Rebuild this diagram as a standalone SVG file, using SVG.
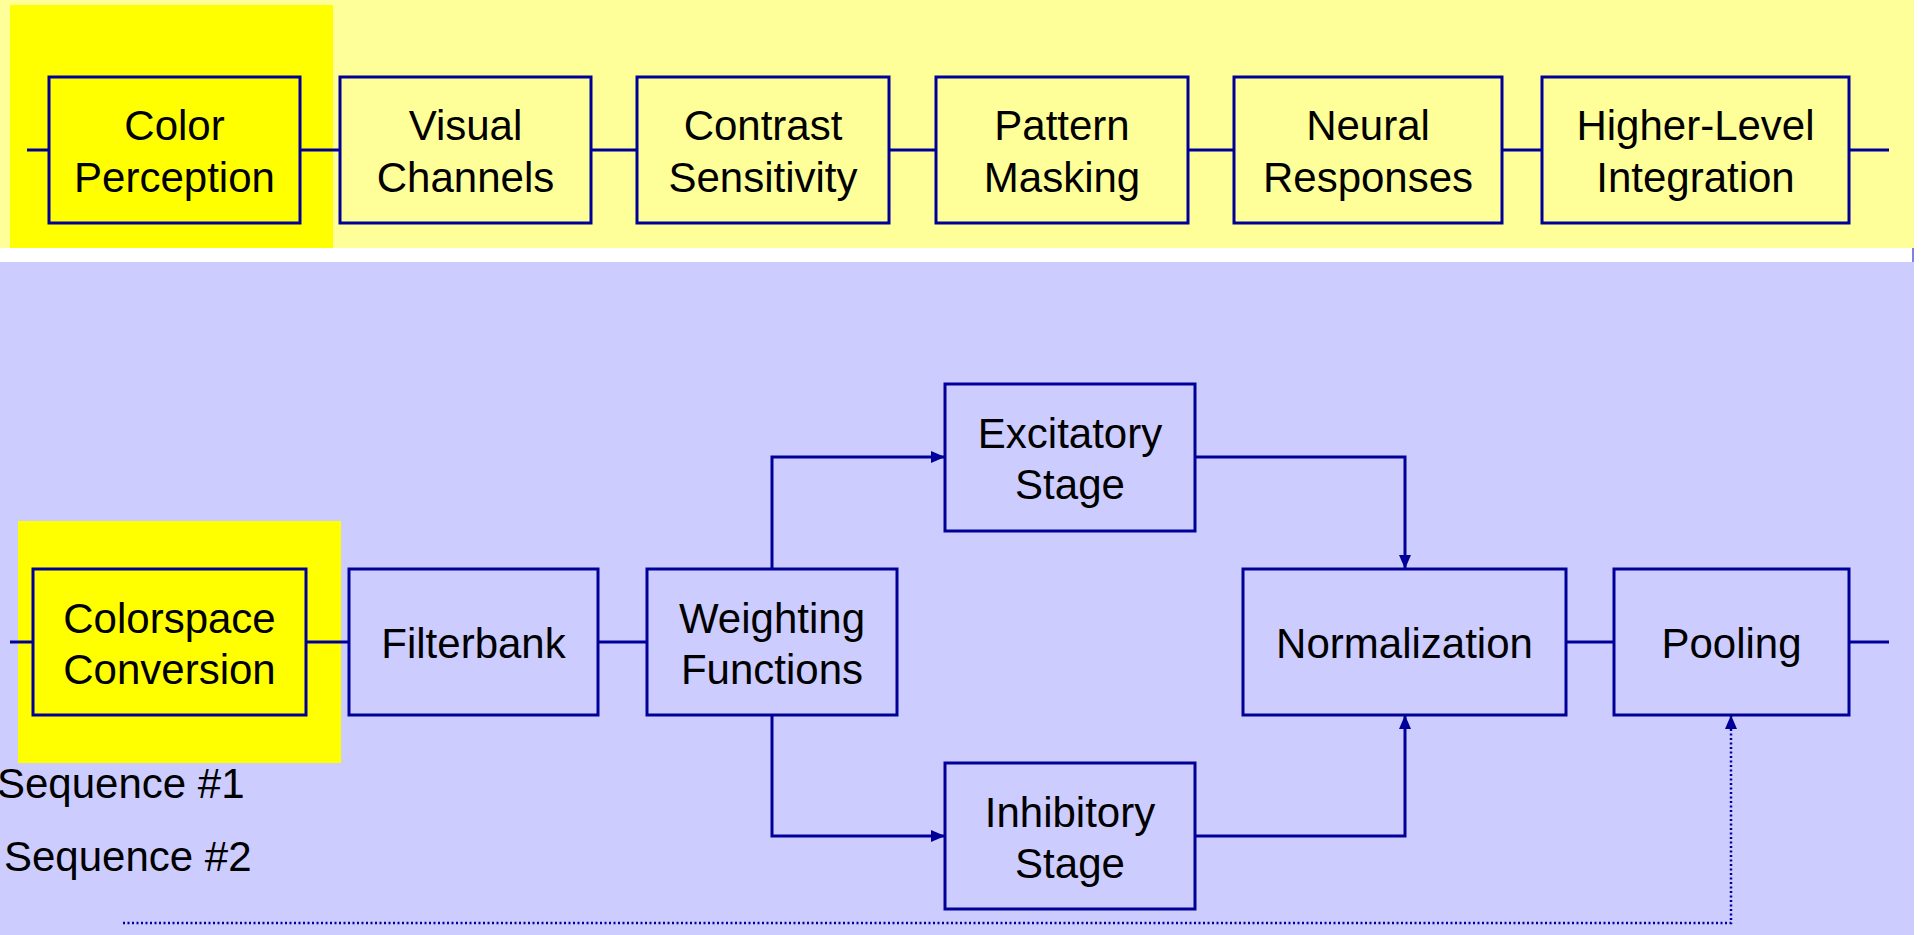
<svg xmlns="http://www.w3.org/2000/svg" width="1926" height="935" viewBox="0 0 1926 935">
  <style>
    .box { stroke: #000099; stroke-width: 3; }
    .top { fill: #FFFF99; }
    .hl { fill: #FFFF00; }
    .low { fill: #CCCCFF; }
    .lbl { font-family: "Liberation Sans", Arial, sans-serif; font-size: 42px; fill: #000000; text-anchor: middle; }
    .seq { font-family: "Liberation Sans", Arial, sans-serif; font-size: 42px; fill: #000000; }
    .wire { fill: none; stroke: #000099; stroke-width: 3; }
    .dots { fill: none; stroke: #000099; stroke-width: 2.5; stroke-dasharray: 2 2.5; }
  </style>
  <defs>
    <marker id="arrow" viewBox="0 0 14 12" refX="14" refY="6" markerWidth="14" markerHeight="12" markerUnits="userSpaceOnUse" orient="auto">
      <path d="M0,0 L14,6 L0,12 Z" fill="#000099"/>
    </marker>
  </defs>

  <!-- backgrounds -->
  <rect x="0" y="0" width="1926" height="935" fill="#FFFFFF"/>
  <rect x="0" y="0" width="1914" height="248" fill="#FFFF99"/>
  <rect x="0" y="262" width="1914" height="673" fill="#CCCCFF"/>
  <rect x="1912" y="248" width="2" height="14" fill="#8080E0"/>
  <rect x="10" y="5" width="323" height="243" fill="#FFFF00"/>
  <rect x="18" y="521" width="323" height="242" fill="#FFFF00"/>

  <!-- connectors -->
  <g id="connectors">
    <!-- upper chain -->
    <path class="wire" d="M27,150 H49"/>
    <path class="wire" d="M300,150 H340"/>
    <path class="wire" d="M591,150 H637"/>
    <path class="wire" d="M889,150 H936"/>
    <path class="wire" d="M1188,150 H1234"/>
    <path class="wire" d="M1502,150 H1542"/>
    <path class="wire" d="M1849,150 H1889"/>
    <!-- lower chain -->
    <path class="wire" d="M10,642 H33"/>
    <path class="wire" d="M306,642 H349"/>
    <path class="wire" d="M598,642 H647"/>
    <path class="wire" d="M1566,642 H1614"/>
    <path class="wire" d="M1849,642 H1889"/>
    <path class="wire" d="M772,569 V457 H945" marker-end="url(#arrow)"/>
    <path class="wire" d="M772,715 V836 H945" marker-end="url(#arrow)"/>
    <path class="wire" d="M1195,457 H1405 V569" marker-end="url(#arrow)"/>
    <path class="wire" d="M1195,836 H1405 V715" marker-end="url(#arrow)"/>
    <path class="dots" d="M123,923 H1731 V715" marker-end="url(#arrow)"/>
  </g>

  <!-- upper chain nodes -->
  <g id="color-perception">
    <rect class="box hl" x="49" y="77" width="251" height="146"/>
    <text class="lbl" x="174.5" y="140">Color</text>
    <text class="lbl" x="174.5" y="192">Perception</text>
  </g>
  <g id="visual-channels">
    <rect class="box top" x="340" y="77" width="251" height="146"/>
    <text class="lbl" x="465.5" y="140">Visual</text>
    <text class="lbl" x="465.5" y="192">Channels</text>
  </g>
  <g id="contrast-sensitivity">
    <rect class="box top" x="637" y="77" width="252" height="146"/>
    <text class="lbl" x="763" y="140">Contrast</text>
    <text class="lbl" x="763" y="192">Sensitivity</text>
  </g>
  <g id="pattern-masking">
    <rect class="box top" x="936" y="77" width="252" height="146"/>
    <text class="lbl" x="1062" y="140">Pattern</text>
    <text class="lbl" x="1062" y="192">Masking</text>
  </g>
  <g id="neural-responses">
    <rect class="box top" x="1234" y="77" width="268" height="146"/>
    <text class="lbl" x="1368" y="140">Neural</text>
    <text class="lbl" x="1368" y="192">Responses</text>
  </g>
  <g id="higher-level-integration">
    <rect class="box top" x="1542" y="77" width="307" height="146"/>
    <text class="lbl" x="1695.5" y="140">Higher-Level</text>
    <text class="lbl" x="1695.5" y="192">Integration</text>
  </g>

  <!-- lower chain nodes -->
  <g id="colorspace-conversion">
    <rect class="box hl" x="33" y="569" width="273" height="146"/>
    <text class="lbl" x="169.5" y="633">Colorspace</text>
    <text class="lbl" x="169.5" y="684">Conversion</text>
  </g>
  <g id="filterbank">
    <rect class="box low" x="349" y="569" width="249" height="146"/>
    <text class="lbl" x="473.5" y="658">Filterbank</text>
  </g>
  <g id="weighting-functions">
    <rect class="box low" x="647" y="569" width="250" height="146"/>
    <text class="lbl" x="772" y="633">Weighting</text>
    <text class="lbl" x="772" y="684">Functions</text>
  </g>
  <g id="excitatory-stage">
    <rect class="box low" x="945" y="384" width="250" height="147"/>
    <text class="lbl" x="1070" y="448">Excitatory</text>
    <text class="lbl" x="1070" y="499">Stage</text>
  </g>
  <g id="inhibitory-stage">
    <rect class="box low" x="945" y="763" width="250" height="146"/>
    <text class="lbl" x="1070" y="827">Inhibitory</text>
    <text class="lbl" x="1070" y="878">Stage</text>
  </g>
  <g id="normalization">
    <rect class="box low" x="1243" y="569" width="323" height="146"/>
    <text class="lbl" x="1404.5" y="658">Normalization</text>
  </g>
  <g id="pooling">
    <rect class="box low" x="1614" y="569" width="235" height="146"/>
    <text class="lbl" x="1731.5" y="658">Pooling</text>
  </g>

  <!-- sequence labels -->
  <g id="sequence-labels">
    <text class="seq" x="-3" y="798">Sequence #1</text>
    <text class="seq" x="4" y="871">Sequence #2</text>
  </g>
</svg>
